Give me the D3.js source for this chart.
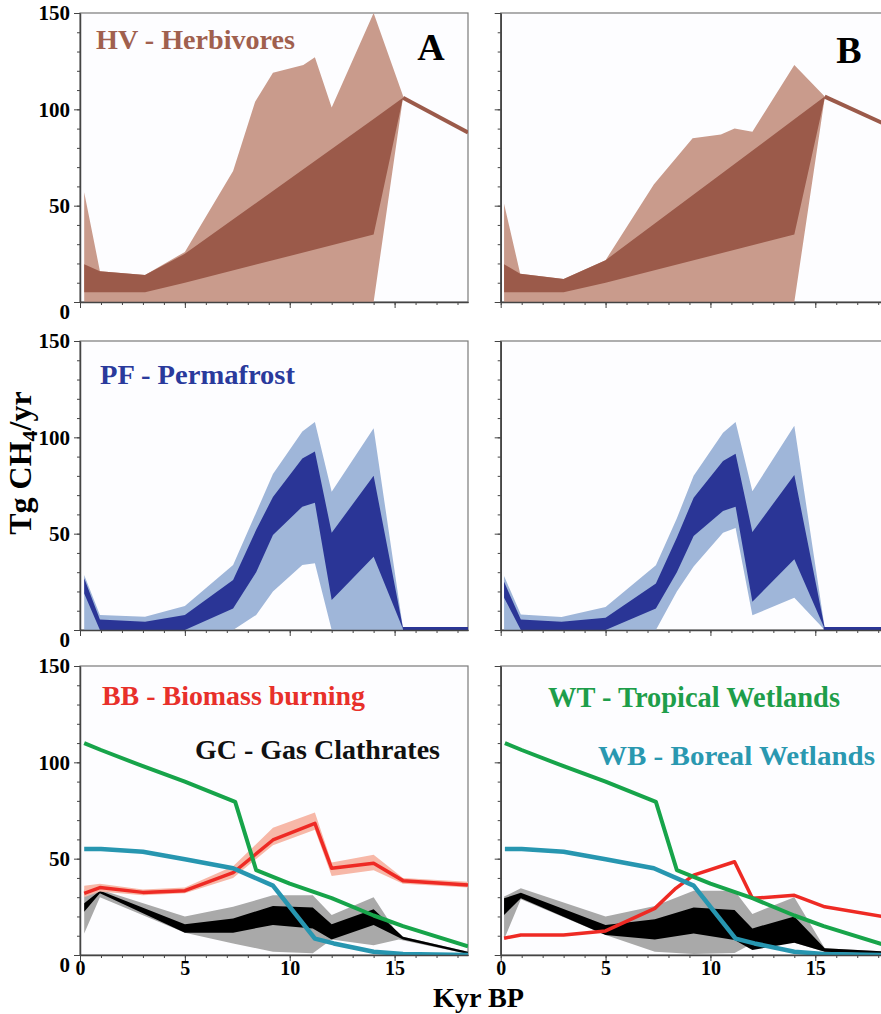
<!DOCTYPE html>
<html>
<head>
<meta charset="utf-8">
<script src="https://cdn.jsdelivr.net/npm/d3@7"></script>
<style>
body { margin: 0; background: #fff; }
text { font-family: "Liberation Serif", "Times New Roman", serif; font-weight: bold; }
</style>
</head>
<body>
<div id="chart"></div>
<script>
// ---- data (kyr BP, Tg CH4/yr) ----
var kyrTicks = [0, 5, 10, 15];
var fluxTicks = [0, 50, 100, 150];

// [kyr, low, high]
var hvLightA = [[0.2,0,57],[0.95,0,16],[3.1,0,14],[5.0,0,26],[7.3,0,68],[8.35,0,104],[9.2,0,119],[10.65,0,123],[11.2,0,127],[12.0,0,101],[14.0,0,150],[15.4,106,107]];
var hvDarkA = [[0.2,5,19.6],[0.95,5,16],[3.1,5,14],[5.0,10,25],[14.0,35,95],[15.4,106,106]];
var hvLineA = [[15.4,106],[18.5,88]];
var hvLightB = [[0.16,0,51],[0.93,0,14.7],[3.0,0,12],[5.0,0,21.7],[7.3,0,61],[9.15,0,85],[10.5,0,87],[11.15,0,90],[12.0,0,88.4],[14.0,0,123],[15.45,106,106.6]];
var hvDarkB = [[0.16,5,19.6],[0.93,5,14.7],[3.0,5,12],[5.0,10,21.7],[14.0,35,94.8],[15.45,106,106.6]];
var hvLineB = [[15.45,106.6],[18.5,91.4]];

var pfLightA = [[0.2,0,28.5],[0.95,0,7.8],[3.1,0,6.9],[5.0,0,12.5],[7.3,0,33.7],[8.4,7.8,61],[9.2,20,81],[10.6,33.7,103],[11.2,34.6,108],[12.0,0,71.8],[14.0,0,104.7],[15.4,0,1]];
var pfDarkA = [[0.2,19,26.8],[0.95,0,5.5],[3.1,0,4.3],[5.0,0,7.8],[7.3,11.2,26],[8.4,30,52],[9.2,49.3,69],[10.6,64,89],[11.2,66,92.6],[12.0,15.6,50.5],[14.0,38,80],[15.4,0.5,1]];
var pfLightB = [[0.16,0,28],[0.96,0,8.1],[2.9,0,6.7],[5.0,0,12],[7.4,0,33.6],[8.4,20,58],[9.2,33,80],[10.6,50.5,102.4],[11.2,53,108],[12.0,7.6,72],[14.0,16.8,106],[15.45,0,1]];
var pfDarkB = [[0.16,16.8,25],[0.96,0,5.5],[2.9,0,4.3],[5.0,0,6.4],[7.4,11.2,24.2],[8.4,30,48],[9.2,48.8,68.7],[10.6,61.8,87.7],[11.2,64,91.5],[12.0,14.7,50.9],[14.0,36.7,80.4],[15.45,0.5,1]];
var pfTail = [[15.4,0.8],[18.5,0.8]];

var wtLine = [[0.2,110],[1,106.4],[3,98],[5,90],[7.4,79.5],[8.4,44],[10,37],[12,29.5],[14,20.5],[15.4,15],[18.5,4.5]];
var wbLine = [[0.2,55],[1,55],[3,53.6],[5,49.7],[7.3,45],[9.2,36],[11.2,8.5],[12.1,6],[14,1.7],[15.4,0.5],[18.5,0]];

var bbLineA = [[0.2,32],[0.95,35],[3.0,32.5],[5.0,33.4],[7.3,42.7],[9.2,59.7],[11.2,68.3],[12.0,45],[14.0,47.6],[15.4,38.6],[18.5,36.3]];
var bbBandA = [[0.2,30,36],[0.95,33,37],[3,31,34],[5,32,35],[7.3,40,46],[9.2,57,66],[11.2,65,74],[12,41,48],[14,44,52],[15.4,37,40],[18.5,35,38]];
var bbLineB = [[0.16,8.7],[0.96,10.4],[3.0,10.4],[5.0,12.5],[7.35,24.2],[8.35,34.6],[9.2,41.5],[11.15,48.4],[12.0,29.4],[14.0,31],[15.45,25],[18.5,19.5]];

var gcBlackA = [[0.2,22.5,26.8],[0.95,32,33.4],[5,11.6,16],[7.3,11.6,19],[9.2,15.6,25.4],[11.1,13.8,24.7],[12.0,8.1,16],[14,15.6,23.7],[15.4,8.1,9.5],[18.5,0.5,1.7]];
var gcGrayA = [[0.2,11.2,34],[0.95,30,34],[5,11.6,20],[7.3,6,25],[9.2,1.7,31],[11.1,0.9,31],[12.0,8,20.8],[14,5,30],[15.2,8,10],[18.5,0.5,1.7]];
var gcBlackB = [[0.16,20.8,29.4],[0.96,29.4,32.3],[5,10.4,15.6],[7.35,8.1,18.5],[9.2,11.2,24.7],[11.15,7.8,23.3],[12,2.6,13.8],[14,6.4,20],[15.45,1.7,3.5],[18.5,0.5,1.7]];
var gcGrayB = [[0.16,8.1,30.3],[0.96,29,34.6],[5,10.4,20],[7.35,1.7,25.4],[9.2,0.5,33.4],[11.15,1,33.4],[12,6,21.3],[14,6.4,30],[15.45,1.7,3.5],[18.5,0.5,1.7]];

var svg = d3.select("#chart").append("svg")
	.attr("width", 881)
	.attr("height", 1014);

var defs = svg.append("defs");

function panel(name, left, top, yLabels, xLabels) {
	var w = 388, h = 289;
	var x = d3.scaleLinear().domain([0, 18.5]).range([left, left + w]);
	var y = d3.scaleLinear().domain([0, 150]).range([top + h, top]);

	defs.append("clipPath").attr("id", "clip-" + name)
		.append("rect").attr("x", left).attr("y", top).attr("width", w).attr("height", h);

	svg.append("rect")
		.attr("x", left).attr("y", top).attr("width", w).attr("height", h)
		.attr("fill", "#fdfdff").attr("stroke", "#7a7a7a").attr("stroke-width", 1.2);

	var g = svg.append("g").attr("clip-path", "url(#clip-" + name + ")");

	// minor + major ticks, left
	svg.append("g").attr("transform", "translate(" + left + ",0)").attr("color", "#444")
		.call(d3.axisLeft(y).tickValues(d3.range(0, 151, 10)).tickSize(3).tickSizeOuter(0).tickFormat(""));
	var yl = svg.append("g").attr("transform", "translate(" + left + ",0)").attr("color", "#444")
		.call(d3.axisLeft(y).tickValues(fluxTicks).tickSize(6).tickSizeOuter(0).tickPadding(4)
			.tickFormat(yLabels ? d3.format("d") : ""));
	yl.selectAll("text").attr("font-size", 21).attr("fill", "#000")
		.filter(function (d) { return d == 0; }).attr("y", 10);

	svg.append("g").attr("transform", "translate(0," + (top + h) + ")").attr("color", "#444")
		.call(d3.axisBottom(x).tickValues(d3.range(0, 19, 1)).tickSize(3).tickSizeOuter(0).tickFormat(""));
	var xl = svg.append("g").attr("transform", "translate(0," + (top + h) + ")").attr("color", "#444")
		.call(d3.axisBottom(x).tickValues(kyrTicks).tickSize(6).tickSizeOuter(0).tickPadding(0)
			.tickFormat(xLabels ? d3.format("d") : ""));
	xl.selectAll("text").attr("font-size", 20).attr("fill", "#000");
	xl.selectAll("path").attr("stroke-width", 1.5);
	yl.selectAll("path").attr("stroke-width", 1.5);

	return { x: x, y: y, g: g };
}

function band(p, data, color) {
	var area = d3.area()
		.x(function (d) { return p.x(d[0]); })
		.y0(function (d) { return p.y(d[1]); })
		.y1(function (d) { return p.y(d[2]); });
	p.g.append("path").datum(data).attr("d", area).attr("fill", color);
}

function line(p, data, color, width) {
	var ln = d3.line()
		.x(function (d) { return p.x(d[0]); })
		.y(function (d) { return p.y(d[1]); });
	p.g.append("path").datum(data).attr("d", ln)
		.attr("fill", "none").attr("stroke", color).attr("stroke-width", width)
		.attr("stroke-linejoin", "round");
}

function label(txt, x, y, size, color, len) {
	var t = svg.append("text").attr("x", x).attr("y", y).attr("font-size", size).attr("fill", color).text(txt);
	if (len) t.attr("textLength", len).attr("lengthAdjust", "spacingAndGlyphs");
}

// row 1 - herbivores
var hA = panel("hA", 80, 13, true, false);
band(hA, hvLightA, "#c99b8c");
band(hA, hvDarkA, "#9b5a4a");
line(hA, hvLineA, "#9b5a4a", 4);
var hB = panel("hB", 500.7, 13, false, false);
band(hB, hvLightB, "#c99b8c");
band(hB, hvDarkB, "#9b5a4a");
line(hB, hvLineB, "#9b5a4a", 4);

// row 2 - permafrost
var pA = panel("pA", 80, 341, true, false);
band(pA, pfLightA, "#9fb6d9");
band(pA, pfDarkA, "#2a3596");
line(pA, pfTail, "#2a3596", 3);
var pB = panel("pB", 500.7, 341, false, false);
band(pB, pfLightB, "#9fb6d9");
band(pB, pfDarkB, "#2a3596");
line(pB, pfTail, "#2a3596", 3);

// row 3 - other sources
var oA = panel("oA", 80, 666, true, true);
band(oA, gcGrayA, "#a9a9a9");
band(oA, gcBlackA, "#000");
band(oA, bbBandA, "#f7b8a8");
line(oA, bbLineA, "#ee2a24", 3.5);
line(oA, wbLine, "#2796b0", 4.5);
line(oA, wtLine, "#17a44a", 4);
var oB = panel("oB", 500.7, 666, false, true);
band(oB, gcGrayB, "#a9a9a9");
band(oB, gcBlackB, "#000");
line(oB, bbLineB, "#ee2a24", 3.5);
line(oB, wbLine, "#2796b0", 4.5);
line(oB, wtLine, "#17a44a", 4);

// titles
label("HV - Herbivores", 96, 49, 28, "#a0604e", 199);
label("PF - Permafrost", 100, 384, 28, "#2a3a9c", 195);
label("BB - Biomass burning", 102, 705, 28, "#e8302a", 263);
label("GC - Gas Clathrates", 195, 759, 28, "#111", 245);
label("WT - Tropical Wetlands", 548, 707, 28.5, "#1e9e4a", 292);
label("WB - Boreal Wetlands", 598, 765, 28, "#2a98b0", 277);

svg.append("text").attr("x", 431).attr("y", 60).attr("font-size", 38)
	.attr("text-anchor", "middle").text("A");
svg.append("text").attr("x", 849).attr("y", 63).attr("font-size", 38)
	.attr("text-anchor", "middle").text("B");

// axis titles
label("Kyr BP", 433, 1007, 28, "#000", 91);
var yt = svg.append("text")
	.attr("transform", "translate(31,463) rotate(-90)")
	.attr("text-anchor", "middle").attr("font-size", 32);
yt.append("tspan").text("Tg CH");
yt.append("tspan").attr("font-size", 22).attr("dy", 6).text("4");
yt.append("tspan").attr("dy", -6).text("/yr");
</script>
</body>
</html>
